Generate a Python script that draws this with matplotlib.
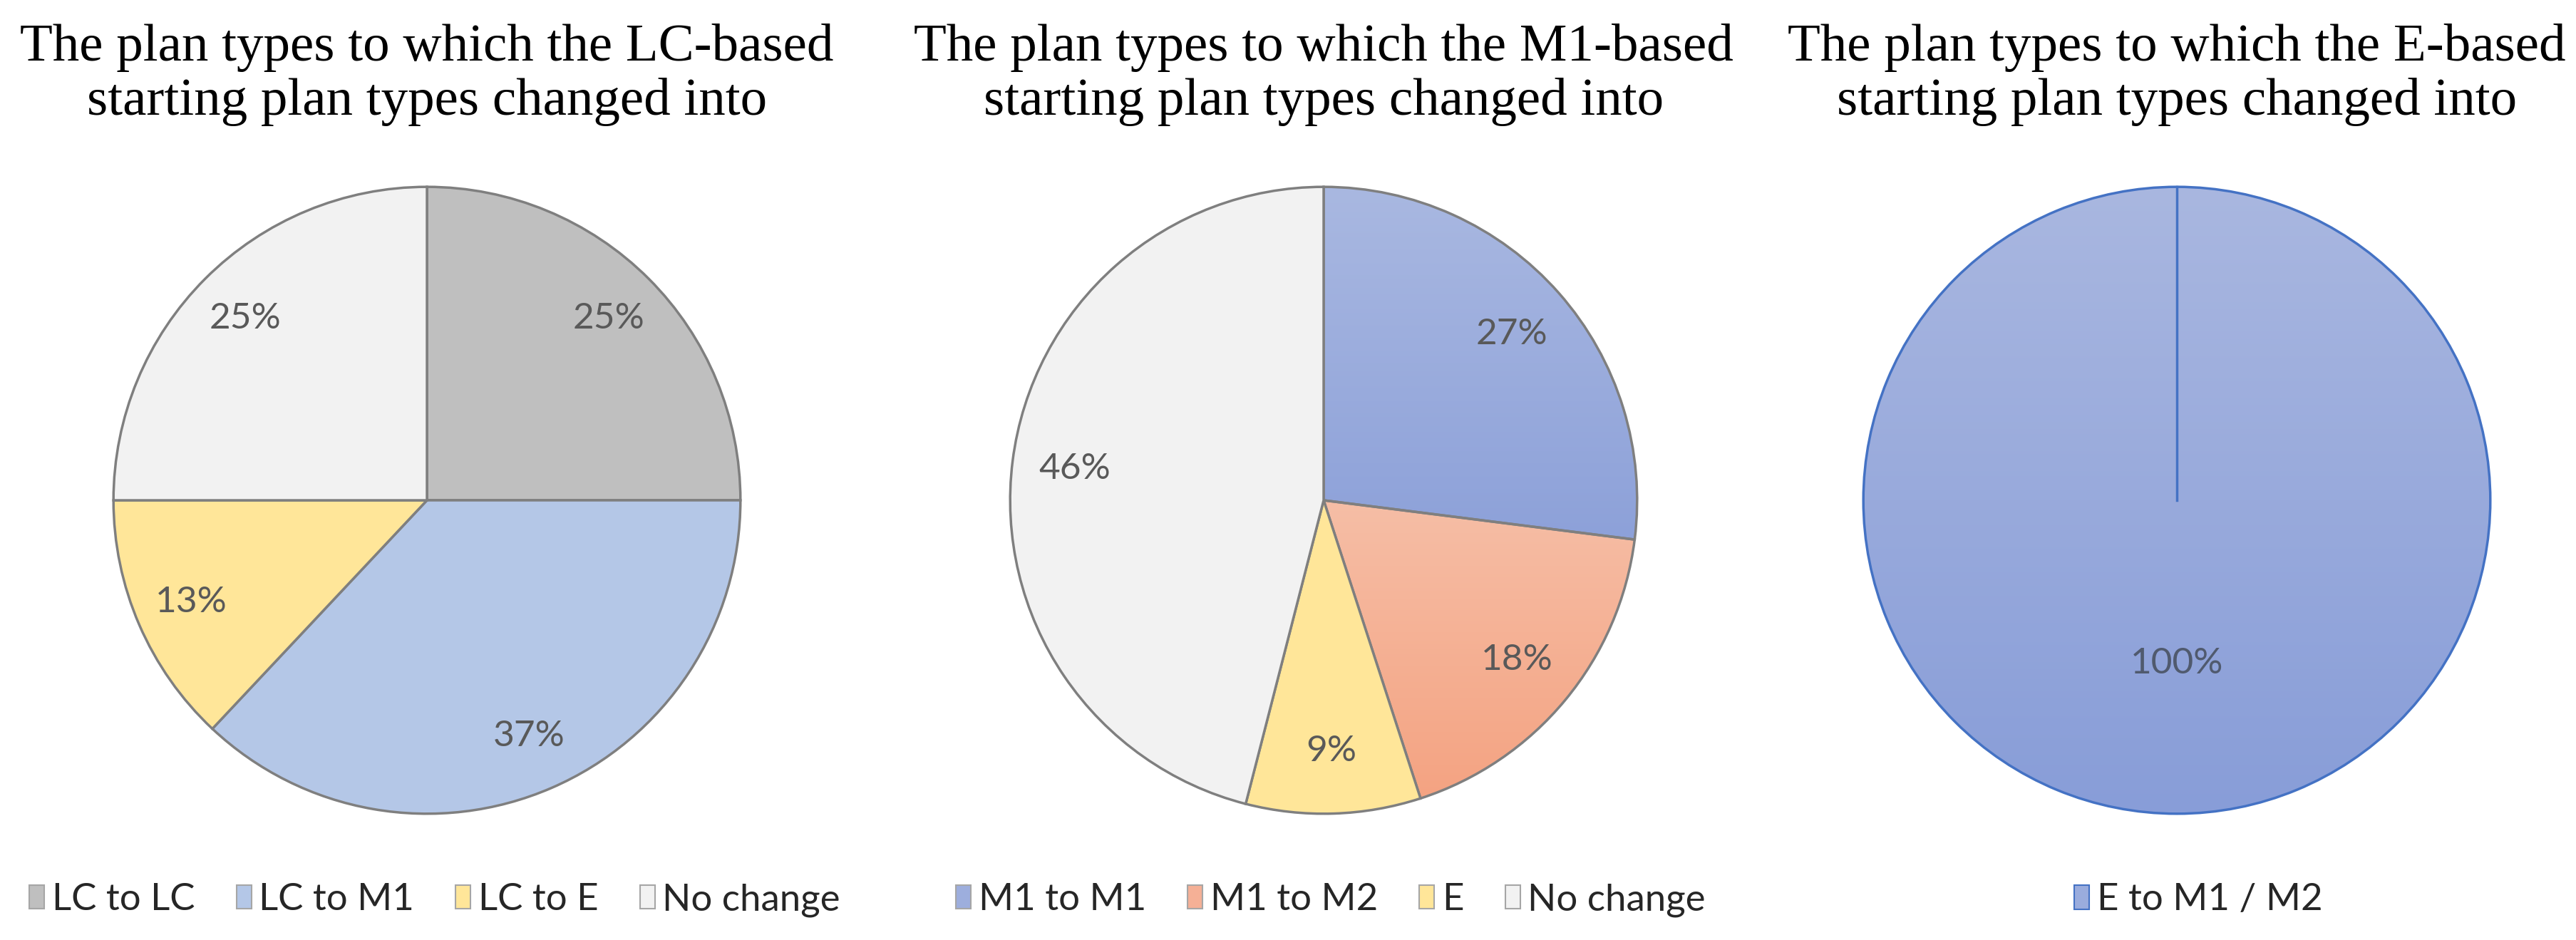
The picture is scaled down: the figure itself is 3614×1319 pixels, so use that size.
import matplotlib
matplotlib.use("Agg")
import matplotlib.pyplot as plt
import numpy as np
from matplotlib.colors import LinearSegmentedColormap
from matplotlib.patches import Patch

# Datos (porcentajes)
titulos = [
    "The plan types to which the LC-based\nstarting plan types changed into",
    "The plan types to which the M1-based\nstarting plan types changed into",
    "The plan types to which the E-based\nstarting plan types changed into",
]
etiquetas_lc = ["LC to LC", "LC to M1", "LC to E", "No change"]
valores_lc = [25, 37, 13, 25]
etiquetas_m1 = ["M1 to M1", "M1 to M2", "E", "No change"]
valores_m1 = [27, 18, 9, 46]
etiquetas_e = ["E to M1 / M2"]
valores_e = [100]

# Colores
colores_lc = ["#BFBFBF", "#B4C7E7", "#FFE699", "#F2F2F2"]
colores_m1 = ["#9DAEDD", "#F5B096", "#FFE699", "#F2F2F2"]
colores_e = ["#9AACDD"]
# degradados (arriba, abajo) para algunas porciones
degradado_m1 = {0: ("#A9B8E1", "#8DA1D9"), 1: ("#F6BEA6", "#F4A382")}
degradado_e = {0: ("#A9B7E0", "#889DD8")}

fuente_num = ["Lato", "DejaVu Sans"]
fuente_tit = ["Liberation Serif", "DejaVu Serif"]

W, H = 3614, 1319
fig = plt.figure(figsize=(W / 100, H / 100), dpi=100)

radio_px = 442
centro_y = 702
centros_x = [599, 1857, 3054]
leyenda_x = [610, 1867, 3084]


def rellenar_degradado(ax, cuna, arriba, abajo):
    cuna.set_facecolor("none")
    ext = cuna.get_path().get_extents()
    cmap = LinearSegmentedColormap.from_list("g", [arriba, abajo])
    img = np.linspace(0, 1, 256).reshape(-1, 1)
    im = ax.imshow(img, cmap=cmap, extent=(ext.x0, ext.x1, ext.y0, ext.y1),
                   origin="upper", aspect="auto", zorder=cuna.get_zorder() - 0.1)
    im.set_clip_path(cuna)


def dibujar_pie(i, valores, etiquetas, colores, borde, degradado, pctdist, color_txt):
    cx = centros_x[i]
    ax = fig.add_axes([(cx - radio_px) / W, (H - centro_y - radio_px) / H,
                       2 * radio_px / W, 2 * radio_px / H])
    cunas, _, textos = ax.pie(
        valores, colors=colores, startangle=90, counterclock=False,
        labels=None, autopct=lambda p: f"{p:.0f}%", pctdistance=pctdist,
        wedgeprops=dict(edgecolor=borde, linewidth=2.5),
        textprops=dict(fontsize=37, color=color_txt, family=fuente_num),
    )
    for k, (a, b) in degradado.items():
        rellenar_degradado(ax, cunas[k], a, b)
    ax.set_xlim(-1.005, 1.005)
    ax.set_ylim(-1.005, 1.005)
    ax.set_aspect("equal")
    ax.axis("off")

    fig.text(cx / W, 1 - 105 / H, titulos[i], ha="center", va="center",
             fontsize=54, family=fuente_tit, linespacing=1.17, color="black")

    manijas = [Patch(facecolor=c, edgecolor=borde if i == 2 else "#A6A6A6", linewidth=1.5)
               for c in colores]
    fig.legend(manijas, etiquetas, loc="center", bbox_to_anchor=(leyenda_x[i] / W, 56 / H),
               ncol=len(etiquetas), frameon=False, handlelength=0.4, handleheight=0.6,
               handletextpad=0.2, columnspacing=1.1,
               prop=dict(family=fuente_num, size=38), labelcolor="#262626")
    return ax


dibujar_pie(0, valores_lc, etiquetas_lc, colores_lc, "#7F7F7F", {}, 0.82, "#595959")
dibujar_pie(1, valores_m1, etiquetas_m1, colores_m1, "#7F7F7F", degradado_m1, 0.80, "#595959")
ax3 = dibujar_pie(2, valores_e, etiquetas_e, colores_e, "#4472C4", degradado_e, 0.52, "#505A6E")
# línea radial de la porción única
ax3.plot([0, 0], [0, 1], color="#4472C4", linewidth=2.5, zorder=5)

fig.savefig("out.png", dpi=100, facecolor="white")
